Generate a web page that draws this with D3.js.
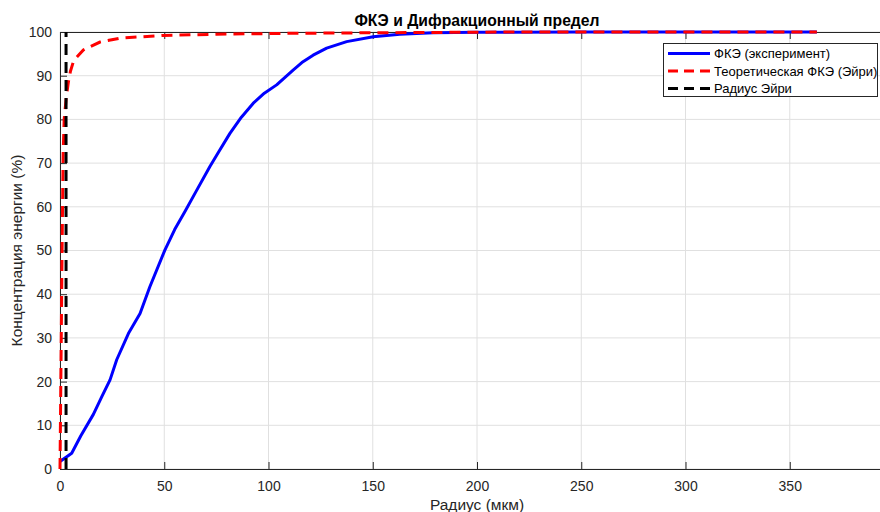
<!DOCTYPE html>
<html>
<head>
<meta charset="utf-8">
<script src="https://cdn.jsdelivr.net/npm/d3@7"></script>
<style>
  html, body { margin: 0; padding: 0; background: #fff; overflow: hidden; }
  svg { display: block; font-family: "Liberation Sans", Arial, Helvetica, sans-serif; }
</style>
</head>
<body>
<svg id="chart" width="880" height="512"></svg>
<script>
// ---- Data ----
const expRadius = [0, 5.6, 10, 16, 20, 24, 27.2, 32.8, 38.4, 43.1, 50.3, 55, 60, 65, 71.9, 76, 81.5, 87, 92.7, 98, 103.9, 111.8, 116, 121.4, 127.9, 137.5, 150.2, 163, 179, 200, 250, 300, 363];
const expEE     = [1.7, 3.6, 7.6, 12.5, 16.5, 20.4, 25, 31, 35.6, 41.7, 50.1, 54.8, 59, 63.3, 69.2, 72.5, 76.8, 80.5, 83.7, 86, 87.9, 91.3, 93, 94.7, 96.3, 97.8, 98.9, 99.5, 99.85, 99.95, 100, 100, 100];

const theoRadius = [0, 0.5, 1, 1.5, 2, 3, 4, 5, 6.4, 8, 11.2, 12.8, 19.2, 28.8, 35, 49.4, 75, 110, 160, 220, 363];
const theoEE     = [0, 25, 50, 72, 80, 85, 88.5, 91, 93.2, 94.2, 95.9, 96.3, 97.7, 98.6, 98.8, 99.2, 99.5, 99.7, 99.85, 100, 100];

const airyRadius = 2.9;
const airyLineY = [0, 100];

const xTicks = [0, 50, 100, 150, 200, 250, 300, 350];
const yTicks = [0, 10, 20, 30, 40, 50, 60, 70, 80, 90, 100];
const xDomain = [0, 400];
const yDomain = [0, 100];

const titleText = "ФКЭ и Дифракционный предел";
const xLabelText = "Радиус (мкм)";
const yLabelText = "Концентрация энергии (%)";
const legendLabels = ["ФКЭ (эксперимент)", "Теоретическая ФКЭ (Эйри)", "Радиус Эйри"];

// ---- Layout ----
const svg = d3.select("#chart");
const L = 60, T = 32, B = 469;
const x = d3.scaleLinear().domain(xDomain).range([L, 894]);
const y = d3.scaleLinear().domain(yDomain).range([B, T]);
const R = x(xDomain[1]);
const axisColor = "#262626";
const gridColor = "#e0e0e0";

// grid
const grid = svg.append("g");
grid.selectAll(".gx").data(xTicks).join("line")
  .attr("x1", d => x(d)).attr("x2", d => x(d)).attr("y1", T).attr("y2", B)
  .attr("stroke", gridColor).attr("stroke-width", 1);
grid.selectAll(".gy").data(yTicks).join("line")
  .attr("x1", L).attr("x2", R).attr("y1", d => y(d)).attr("y2", d => y(d))
  .attr("stroke", gridColor).attr("stroke-width", 1);

// axes
const xAxis = d3.axisBottom(x).tickValues(xTicks).tickSizeInner(-7).tickSizeOuter(0).tickPadding(12).tickFormat(d3.format("d"));
const yAxis = d3.axisLeft(y).tickValues(yTicks).tickSizeInner(-7).tickSizeOuter(0).tickPadding(8).tickFormat(d3.format("d"));
const xTop = d3.axisTop(x).tickValues(xTicks).tickSizeInner(-7).tickSizeOuter(0).tickFormat("");

function styleAxis(g) {
  g.select(".domain").attr("stroke", axisColor).attr("stroke-width", 1);
  g.selectAll(".tick line").attr("stroke", axisColor).attr("stroke-width", 1);
  g.selectAll(".tick text").attr("fill", axisColor).style("font-size", "14px")
   .style("font-family", "'Liberation Sans', Arial, sans-serif");
}
svg.append("g").attr("transform", `translate(0,${B})`).call(xAxis).call(styleAxis);
svg.append("g").attr("transform", `translate(${L},0)`).call(yAxis).call(styleAxis);
svg.append("g").attr("transform", `translate(0,${T})`).call(xTop).call(styleAxis);

// lines
const line = d3.line().x(d => x(d[0])).y(d => y(d[1]));
svg.append("path").datum(expRadius.map((r, i) => [r, expEE[i]]))
  .attr("d", line).attr("fill", "none").attr("stroke", "#0000ff").attr("stroke-width", 3)
  .attr("stroke-linejoin", "round");
svg.append("path").datum(theoRadius.map((r, i) => [r, theoEE[i]]))
  .attr("d", line).attr("fill", "none").attr("stroke", "#ff0000").attr("stroke-width", 3)
  .attr("stroke-dasharray", "11,7");
svg.append("path").datum(airyLineY.map(v => [airyRadius, v]))
  .attr("d", line).attr("fill", "none").attr("stroke", "#000000").attr("stroke-width", 3)
  .attr("stroke-dasharray", "11,7");

// title and labels
svg.append("text").attr("x", (L + R) / 2).attr("y", 26).attr("text-anchor", "middle")
  .style("font-size", "15.7px").style("font-weight", "bold").attr("fill", "#000").text(titleText);
svg.append("text").attr("x", (L + R) / 2).attr("y", 510).attr("text-anchor", "middle")
  .style("font-size", "15.5px").attr("fill", axisColor).text(xLabelText);
svg.append("text").attr("transform", `translate(22,${(T + B) / 2}) rotate(-90)`).attr("text-anchor", "middle")
  .style("font-size", "15.5px").attr("fill", axisColor).text(yLabelText);

// legend
const lg = svg.append("g");
lg.append("rect").attr("x", 663.5).attr("y", 43.5).attr("width", 214).attr("height", 53)
  .attr("fill", "#fff").attr("stroke", axisColor).attr("stroke-width", 1);
const legStyles = [
  { c: "#0000ff", dash: null },
  { c: "#ff0000", dash: "10,6" },
  { c: "#000000", dash: "10,6" }
];
const rowY = [53.5, 71, 88.5];
legendLabels.forEach((lab, i) => {
  const ln = lg.append("line").attr("x1", 668).attr("x2", 710).attr("y1", rowY[i]).attr("y2", rowY[i])
    .attr("stroke", legStyles[i].c).attr("stroke-width", 3);
  if (legStyles[i].dash) ln.attr("stroke-dasharray", legStyles[i].dash);
  lg.append("text").attr("x", 714).attr("y", rowY[i] + 4.5).style("font-size", "13px")
    .attr("fill", "#000").text(lab);
});
</script>
</body>
</html>
